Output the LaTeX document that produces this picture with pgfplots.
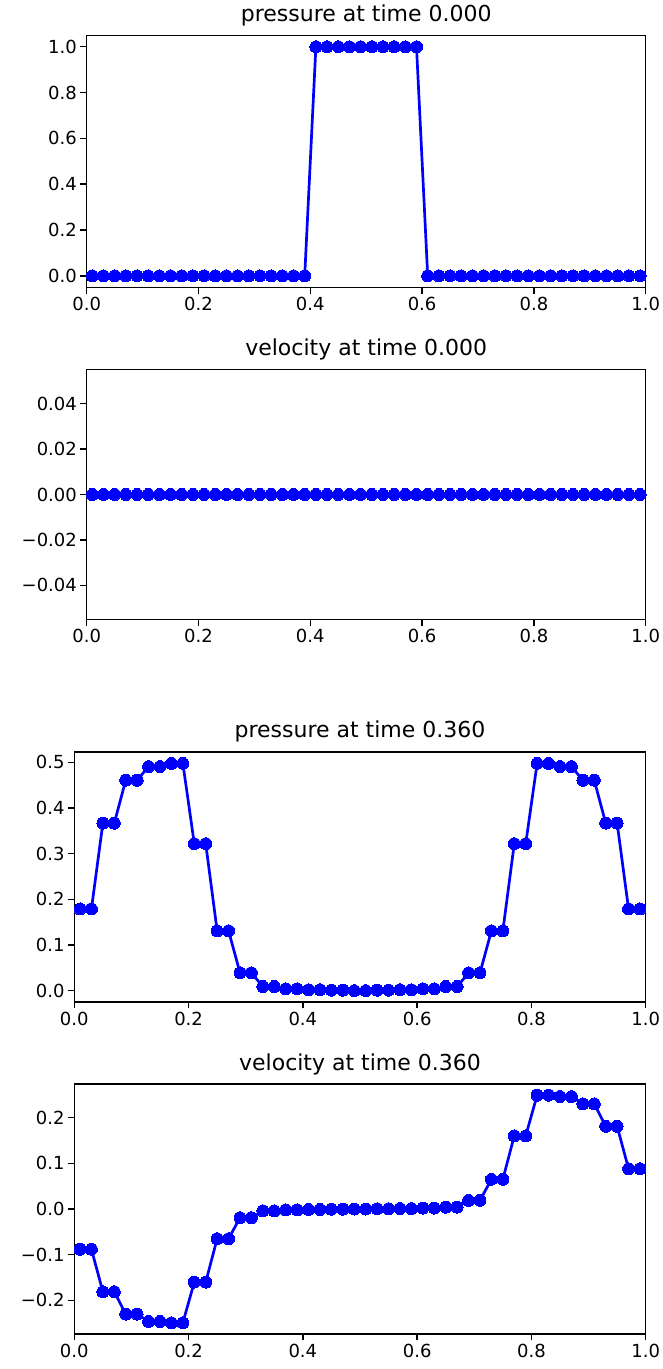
\documentclass[border=0pt]{standalone}
\usepackage{fontspec}
\setmainfont{DejaVu Sans}
\usepackage{pgfplots}
\usepackage{pgfplotstable}
\pgfplotsset{compat=1.18}

% cell centres, pressure/velocity at t=0 and t=0.36
\pgfplotstableread{
x    p0 u0 p1    u1
0.01 0  0  0.179 -0.088
0.03 0  0  0.179 -0.088
0.05 0  0  0.367 -0.181
0.07 0  0  0.367 -0.181
0.09 0  0  0.461 -0.230
0.11 0  0  0.461 -0.230
0.13 0  0  0.491 -0.246
0.15 0  0  0.491 -0.246
0.17 0  0  0.498 -0.249
0.19 0  0  0.498 -0.249
0.21 0  0  0.322 -0.160
0.23 0  0  0.322 -0.160
0.25 0  0  0.131 -0.065
0.27 0  0  0.131 -0.065
0.29 0  0  0.039 -0.019
0.31 0  0  0.039 -0.019
0.33 0  0  0.009 -0.004
0.35 0  0  0.009 -0.004
0.37 0  0  0.004 -0.002
0.39 0  0  0.004 -0.002
0.41 1  0  0.002 -0.001
0.43 1  0  0.002 -0.001
0.45 1  0  0.001 -0.0005
0.47 1  0  0.001 -0.0005
0.49 1  0  0.000 0.000
0.51 1  0  0.000 0.000
0.53 1  0  0.001 0.0005
0.55 1  0  0.001 0.0005
0.57 1  0  0.002 0.001
0.59 1  0  0.002 0.001
0.61 0  0  0.004 0.002
0.63 0  0  0.004 0.002
0.65 0  0  0.009 0.004
0.67 0  0  0.009 0.004
0.69 0  0  0.039 0.019
0.71 0  0  0.039 0.019
0.73 0  0  0.131 0.065
0.75 0  0  0.131 0.065
0.77 0  0  0.322 0.160
0.79 0  0  0.322 0.160
0.81 0  0  0.498 0.249
0.83 0  0  0.498 0.249
0.85 0  0  0.491 0.246
0.87 0  0  0.491 0.246
0.89 0  0  0.461 0.230
0.91 0  0  0.461 0.230
0.93 0  0  0.367 0.181
0.95 0  0  0.367 0.181
0.97 0  0  0.179 0.088
0.99 0  0  0.179 0.088
}\data

\pgfplotsset{
  wave/.style={
    scale only axis, anchor=south west,
    xmin=0, xmax=1,
    xtick={0,0.2,0.4,0.6,0.8,1},
    xticklabels={0.0,0.2,0.4,0.6,0.8,1.0},
    scaled x ticks=false, scaled y ticks=false,
    xtick pos=bottom, ytick pos=left,
    tick align=outside, major tick length=6.3pt,
    every tick/.style={black, line width=1.4pt},
    axis line style={line width=1.4pt},
    ticklabel style={font=\fontsize{18}{21}\selectfont},
    title style={font=\fontsize{22}{26}\selectfont, at={(0.5,1)},
      anchor=base, yshift=8pt, inner sep=0pt},
  },
  dots/.style={blue, line width=2.7pt, mark=*, mark size=6pt,
    mark options={solid, fill=blue, draw=blue, line width=0pt}},
}

\begin{document}
\begin{tikzpicture}
\useasboundingbox (0,0) rectangle (663pt,1369pt);

\begin{axis}[wave, at={(86.7pt,1081.7pt)}, width=559pt, height=252pt,
    title={pressure at time 0.000},
    ymin=-0.05, ymax=1.05,
    ytick={0,0.2,0.4,0.6,0.8,1},
    yticklabels={0.0,0.2,0.4,0.6,0.8,1.0}]
\addplot[dots] table[x=x, y=p0] {\data};
\end{axis}

\begin{axis}[wave, at={(86.7pt,749.5pt)}, width=559pt, height=250pt,
    title={velocity at time 0.000},
    ymin=-0.055, ymax=0.055,
    ytick={-0.04,-0.02,0,0.02,0.04},
    yticklabels={−0.04,−0.02,0.00,0.02,0.04}]
\addplot[dots] table[x=x, y=u0] {\data};
\end{axis}

\begin{axis}[wave, at={(74.3pt,367pt)}, width=571.4pt, height=250pt,
    title={pressure at time 0.360},
    ymin=-0.0249, ymax=0.5229,
    ytick={0,0.1,0.2,0.3,0.4,0.5},
    yticklabels={0.0,0.1,0.2,0.3,0.4,0.5}]
\addplot[dots] table[x=x, y=p1] {\data};
\end{axis}

\begin{axis}[wave, at={(74.3pt,35pt)}, width=571.4pt, height=250pt,
    title={velocity at time 0.360},
    ymin=-0.2735, ymax=0.2735,
    ytick={-0.2,-0.1,0,0.1,0.2},
    yticklabels={−0.2,−0.1,0.0,0.1,0.2}]
\addplot[dots] table[x=x, y=u1] {\data};
\end{axis}
\end{tikzpicture}
\end{document}
